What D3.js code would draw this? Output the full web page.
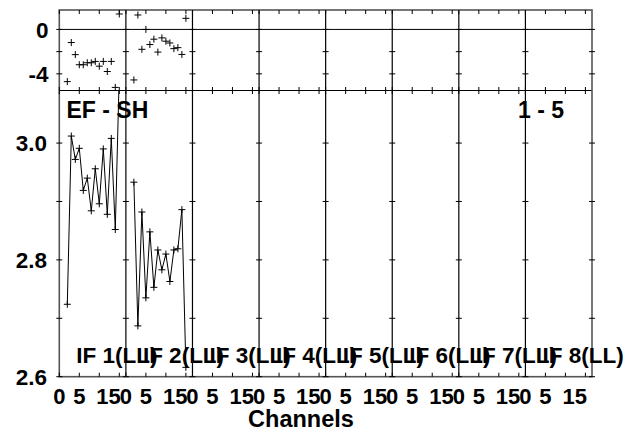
<!DOCTYPE html>
<html>
<head>
<meta charset="utf-8">
<script src="https://cdn.jsdelivr.net/npm/d3@7"></script>
<style>
  body { margin: 0; background: #fff; }
  text { font-family: "Liberation Sans", Arial, sans-serif; font-weight: bold; fill: #000; }
</style>
</head>
<body>
<div id="chart"></div>
<script>
// Panels (one per IF), channel axis and tick labels
const ifLabels = ['IF 1(LL)', 'IF 2(LL)', 'IF 3(LL)', 'IF 4(LL)', 'IF 5(LL)', 'IF 6(LL)', 'IF 7(LL)', 'IF 8(LL)']
const channels = [2, 3, 4, 5, 6, 7, 8, 9, 10, 11, 12, 13, 14, 15]
const channelTicks = [0, 5, 10, 15]
const channelTickLabels = [0, 5, 15]
const ampTicks = [2.6, 2.7, 2.8, 2.9, 3.0]
const ampTickLabels = [2.6, 2.8, 3.0]
const phaseTicks = [0, -2, -4]
const phaseTickLabels = [0, -4]

// Amplitude (lower panel) per IF, channels 2..15
const ampIF1 = [2.724, 3.012, 2.972, 2.991, 2.919, 2.940, 2.884, 2.956, 2.896, 2.990, 2.878, 3.008, 2.852, 3.12]
const ampIF2 = [2.933, 2.687, 2.882, 2.735, 2.848, 2.753, 2.817, 2.783, 2.810, 2.763, 2.817, 2.819, 2.886, 2.616]
// Phase (upper panel) per IF, channels 2..15
const phaseIF1 = [-4.70, -1.18, -2.27, -3.18, -3.18, -3.00, -3.00, -2.88, -3.31, -2.88, -3.79, -2.88, -5.22, 1.39]
const phaseIF2 = [-4.55, 1.30, -1.79, 0.00, -1.36, -0.88, -2.04, -0.76, -1.06, -1.22, -1.73, -1.64, -2.25, 1.00]

const ampSeries = [ampIF1, ampIF2]
const phaseSeries = [phaseIF1, phaseIF2]

const width = 629, height = 432
const plotLeft = 59.3, plotRight = 592, plotTop = 10, plotMid = 90.5, plotBottom = 376.7

const svg = d3.select('#chart').append('svg')
    .attr('width', width)
    .attr('height', height)

const panelScale = d3.scaleBand()
    .domain(d3.range(ifLabels.length))
    .range([plotLeft, plotRight])
const pw = panelScale.bandwidth()
const chScale = d3.scaleLinear().domain([0, 16.65]).range([0, pw])

const yAmp = d3.scaleLinear().domain([2.6, 3.09]).range([plotBottom, plotMid])
const yPhase = d3.scaleLinear().domain([-5.5, 1.75]).range([plotMid, plotTop])

svg.append('clipPath').attr('id', 'ampClip')
  .append('rect')
    .attr('x', plotLeft).attr('y', plotMid)
    .attr('width', plotRight - plotLeft).attr('height', plotBottom - plotMid)

const grid = svg.append('g').attr('stroke', '#000').attr('fill', 'none')

// Panel dividers
ifLabels.forEach((_, i) => {
    if (i === 0) return
    grid.append('line')
        .attr('x1', panelScale(i)).attr('x2', panelScale(i))
        .attr('y1', plotTop).attr('y2', plotBottom)
        .attr('stroke-width', 1.2)
})
// Divider between phase and amplitude
grid.append('line')
    .attr('x1', plotLeft).attr('x2', plotRight)
    .attr('y1', plotMid).attr('y2', plotMid)
    .attr('stroke-width', 1.2)
// Zero phase line
grid.append('line')
    .attr('x1', plotLeft).attr('x2', plotRight)
    .attr('y1', yPhase(0)).attr('y2', yPhase(0))
    .attr('stroke-width', 1)

// Outer frame
grid.append('rect')
    .attr('x', plotLeft).attr('y', plotTop)
    .attr('width', plotRight - plotLeft).attr('height', plotBottom - plotTop)
    .attr('stroke', '#555')
    .attr('stroke-width', 1.6)

// Ticks
const tk = grid.append('g').attr('stroke-width', 1)
ifLabels.forEach((_, i) => {
    const x0 = panelScale(i)
    channelTicks.forEach(c => {
        const x = x0 + chScale(c)
        tk.append('line').attr('x1', x).attr('x2', x).attr('y1', plotTop).attr('y2', plotTop + 4)
        tk.append('line').attr('x1', x).attr('x2', x).attr('y1', plotMid - 3.5).attr('y2', plotMid + 3.5)
        tk.append('line').attr('x1', x).attr('x2', x).attr('y1', plotBottom - 4).attr('y2', plotBottom)
    })
})
d3.range(ifLabels.length + 1).forEach(i => {
    const x = i < ifLabels.length ? panelScale(i) : plotRight
    ampTicks.forEach(v => {
        tk.append('line').attr('x1', x - 3).attr('x2', x + 3).attr('y1', yAmp(v)).attr('y2', yAmp(v))
    })
    phaseTicks.forEach(v => {
        tk.append('line').attr('x1', x - 3).attr('x2', x + 3).attr('y1', yPhase(v)).attr('y2', yPhase(v))
    })
})

// Data
const cross = (g, x, y) => {
    g.append('path')
        .attr('d', `M${x - 3.5},${y}H${x + 3.5}M${x},${y - 3.5}V${y + 3.5}`)
        .attr('stroke', '#000').attr('stroke-width', 1)
}

ampSeries.forEach((vals, i) => {
    const x0 = panelScale(i)
    const pts = channels.map((c, k) => [x0 + chScale(c), yAmp(vals[k])])
    const g = svg.append('g').attr('clip-path', 'url(#ampClip)')
    g.append('path')
        .attr('d', d3.line()(pts))
        .attr('fill', 'none').attr('stroke', '#000').attr('stroke-width', 1)
    pts.forEach(p => cross(g, p[0], p[1]))
})

phaseSeries.forEach((vals, i) => {
    const x0 = panelScale(i)
    const g = svg.append('g')
    channels.forEach((c, k) => cross(g, x0 + chScale(c), yPhase(vals[k])))
})

// Text
const fs = 22.5
ampTickLabels.forEach(v => {
    svg.append('text')
        .attr('x', 47).attr('y', yAmp(v) + 8)
        .attr('text-anchor', 'end').attr('font-size', fs)
        .text(d3.format('.1f')(v))
})
phaseTickLabels.forEach(v => {
    svg.append('text')
        .attr('x', 48.5).attr('y', yPhase(v) + 8.5)
        .attr('text-anchor', 'end').attr('font-size', fs)
        .text(v)
})
ifLabels.forEach((_, i) => {
    const x0 = panelScale(i)
    channelTickLabels.forEach(c => {
        const twoDigit = c >= 10
        svg.append('text')
            .attr('x', x0 + chScale(c) + (twoDigit ? 1.5 : 0)).attr('y', 404)
            .attr('text-anchor', twoDigit ? 'end' : 'middle').attr('font-size', 22)
            .text(c)
    })
})
ifLabels.forEach((lab, i) => {
    svg.append('text')
        .attr('x', panelScale(i) + 17).attr('y', 363)
        .attr('font-size', fs)
        .text(lab)
})
svg.append('text')
    .attr('x', 66.5).attr('y', 118)
    .attr('font-size', 23)
    .text('EF - SH')
svg.append('text')
    .attr('x', 518).attr('y', 117.5)
    .attr('font-size', 23)
    .text('1 - 5')
svg.append('text')
    .attr('x', 301).attr('y', 427)
    .attr('text-anchor', 'middle').attr('font-size', 23.5)
    .text('Channels')
</script>
</body>
</html>
